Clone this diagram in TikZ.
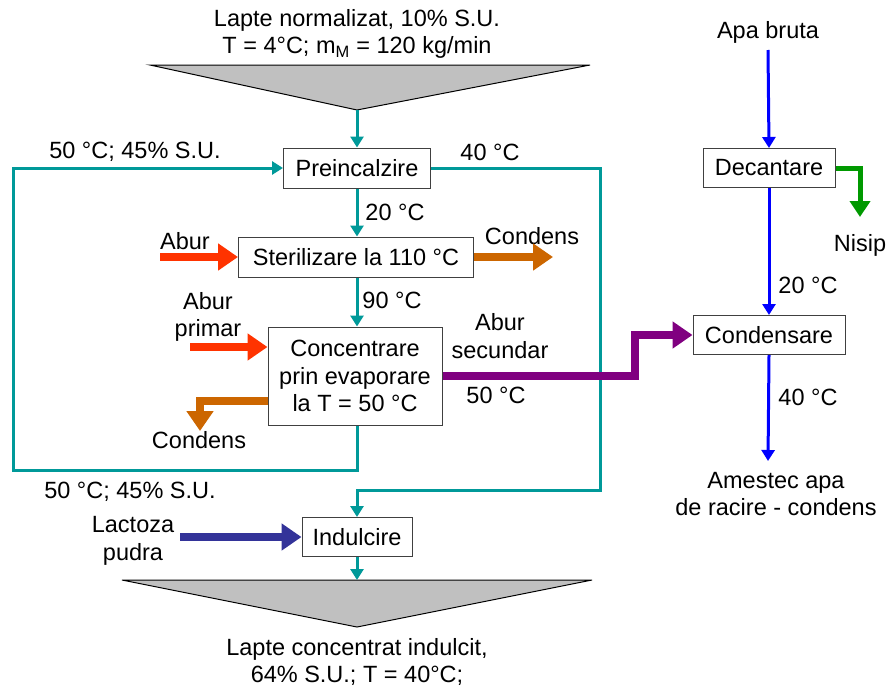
\documentclass[tikz,border=0pt]{standalone}
\usepackage{fontspec}
\setmainfont{Liberation Sans}
\usetikzlibrary{arrows.meta,calc}
\definecolor{tealc}{HTML}{009999}
\definecolor{redc}{HTML}{FF3300}
\definecolor{brownc}{HTML}{CC6600}
\definecolor{purc}{HTML}{800080}
\definecolor{navyc}{HTML}{333399}
\definecolor{bluec}{HTML}{0000FF}
\definecolor{greenc}{HTML}{009900}
\definecolor{grayc}{HTML}{C0C0C0}
\begin{document}
\begin{tikzpicture}[x=1pt,y=-1pt,
  font=\fontsize{23.5}{27.5}\selectfont,
  box/.style={draw=black!75, line width=1pt, fill=white, inner sep=0pt, align=center},
  lbl/.style={inner sep=0pt, align=center},
  flow/.style={tealc, line width=3pt, -{Triangle[length=11pt,width=13pt]}},
  water/.style={bluec, line width=3pt, -{Triangle[length=11pt,width=13pt]}},
  fat/.style={line width=8pt, -{Triangle[length=20pt,width=26pt]}},
  sand/.style={greenc, line width=5pt, -{Triangle[length=16pt,width=20pt]}},
  funnel/.style={draw=black, line width=1pt, fill=grayc}]
\useasboundingbox (0,0) rectangle (890,688);

% top input
\node[lbl] (tin) at (357,34) {Lapte normalizat, 10\% S.U.\\T = 4°C; m\textsubscript{M} = 120 kg/min};
\draw[funnel] (150,65) -- (590,65) -- (357,110) -- cycle;
\coordinate (tapex) at (357,110);

% boxes
\node[box, minimum width=147pt, minimum height=40pt] (pre) at (357,168) {Preincalzire};
\node[box, minimum width=235pt, minimum height=40pt] (ster) at (356,257) {Sterilizare la 110 °C};
\node[box, minimum width=174pt, minimum height=98pt] (conc) at (355,376) {Concentrare\\prin evaporare\\la T = 50 °C};
\node[box, minimum width=110pt, minimum height=39pt] (ind) at (357,537) {Indulcire};
\node[box, minimum width=132pt, minimum height=39pt] (dec) at (769,168) {Decantare};
\node[box, minimum width=152pt, minimum height=39pt] (cond) at (769,335) {Condensare};

% bottom output
\draw[funnel] (122,580) -- (592,580) -- (357,627) -- cycle;
\coordinate (btop) at (357,580);
\node[lbl] (tout) at (357,662) {Lapte concentrat indulcit,\\64\% S.U.; T = 40°C;};

% main flow
\draw[flow] (tapex) -- (pre.north);
\draw[flow] (pre.south) -- (pre.south |- ster.north);
\draw[flow] (pre.south |- ster.south) -- (pre.south |- conc.north);
\draw[flow] (pre.south |- conc.south) -- (357,470) -- (13,470) |- (pre.west);
\draw[flow] (pre.east) -| (600,490) -| (ind.north);
\draw[flow] (ind.south) -- (btop);

% labels main
\node[lbl] (l1) at (135,152) {50 °C; 45\% S.U.};
\node[lbl] (l2) at (490,152) {40 °C};
\node[lbl] (l3) at (395,212) {20 °C};
\node[lbl] (l4) at (392,300) {90 °C};
\node[lbl] (l5) at (130,492) {50 °C; 45\% S.U.};

% steam sterilization
\node[lbl] (abur1) at (185,241) {Abur};
\coordinate (a1s) at (160,257);
\draw[fat, redc] (a1s) -- (ster.west);
\node[lbl] (cd1) at (532,236) {Condens};
\coordinate (c1e) at (553,257);
\draw[fat, brownc] (ster.east) -- (c1e);

% steam evaporation
\node[lbl] (abur2) at (208,317) {Abur\\primar};
\coordinate (a2s) at (190,347);
\draw[fat, redc] (a2s) -- (a2s -| conc.west);
\node[lbl] (cd2) at (199,440) {Condens};
\coordinate (c2e) at (200,431);
\draw[fat, brownc] ($(conc.west)+(0,25)$) -| (c2e);

% secondary steam
\node[lbl] (abur3) at (500,336) {Abur\\secundar};
\node[lbl] (l6) at (496,395) {50 °C};
\draw[fat, purc] (conc.east) -- (635,376) |- (cond.west);

% lactose
\node[lbl] (lact) at (133,541) {Lactoza\\pudra};
\coordinate (lacs) at (180,537);
\draw[fat, navyc] (lacs) -- (ind.west);

% water line
\node[lbl] (apa) at (768,32) {Apa bruta};
\coordinate (aps) at (768,50);
\draw[water] (aps) -- (dec.north);
\draw[water] (dec.south) -- (cond.north);
\node[lbl] (l7) at (808,285) {20 °C};
\coordinate (wend) at (768,461);
\draw[water] (cond.south) -- (wend);
\node[lbl] (l8) at (808,397) {40 °C};
\node[lbl] (amest) at (776,494) {Amestec apa\\de racire - condens};

% sand
\coordinate (nend) at (860,217);
\draw[sand] (dec.east) -| (nend);
\node[lbl] (nisip) at (860,245) {Nisip};
\end{tikzpicture}
\end{document}
